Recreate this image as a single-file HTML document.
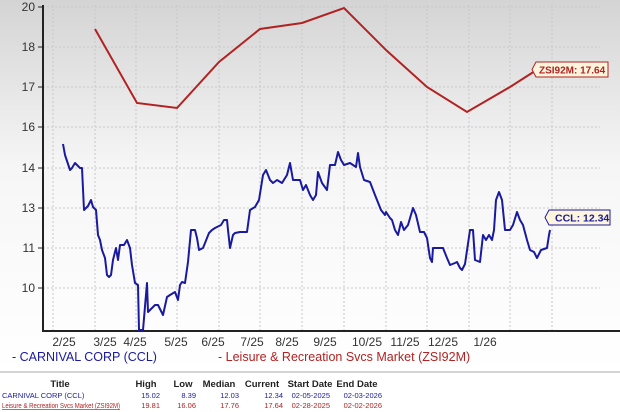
<!DOCTYPE html>
<html><head><style>
body{margin:0;width:620px;height:412px;background:#fff;font-family:"Liberation Sans",sans-serif;overflow:hidden}
</style></head><body>
<svg width="620" height="412" style="position:absolute;left:0;top:0">
<defs><linearGradient id="bg" x1="0" y1="0" x2="0" y2="1"><stop offset="0" stop-color="#d4d4d4"/><stop offset="0.45" stop-color="#f6f6f6"/><stop offset="1" stop-color="#ffffff"/></linearGradient></defs>
<rect x="0" y="0" width="620" height="372" fill="url(#bg)"/>
<g stroke="#c8c8c8" stroke-dasharray="2,2" stroke-width="1">
<line x1="43" y1="7" x2="600" y2="7"/><line x1="43" y1="47" x2="600" y2="47"/><line x1="43" y1="87" x2="600" y2="87"/><line x1="43" y1="127" x2="600" y2="127"/><line x1="43" y1="168" x2="600" y2="168"/><line x1="43" y1="208" x2="600" y2="208"/><line x1="43" y1="248" x2="600" y2="248"/><line x1="43" y1="288" x2="600" y2="288"/>
<line x1="53" y1="5" x2="53" y2="330"/><line x1="95" y1="5" x2="95" y2="330"/><line x1="136" y1="5" x2="136" y2="330"/><line x1="177" y1="5" x2="177" y2="330"/><line x1="219" y1="5" x2="219" y2="330"/><line x1="260" y1="5" x2="260" y2="330"/><line x1="302" y1="5" x2="302" y2="330"/><line x1="344" y1="5" x2="344" y2="330"/><line x1="386" y1="5" x2="386" y2="330"/><line x1="427" y1="5" x2="427" y2="330"/><line x1="469" y1="5" x2="469" y2="330"/><line x1="510" y1="5" x2="510" y2="330"/><line x1="552" y1="5" x2="552" y2="330"/>
</g>
<path d="M43 5 V331 H620" fill="none" stroke="#222" stroke-width="2"/>
<g stroke="#222"><line x1="38" y1="7" x2="43" y2="7"/><line x1="38" y1="47" x2="43" y2="47"/><line x1="38" y1="87" x2="43" y2="87"/><line x1="38" y1="127" x2="43" y2="127"/><line x1="38" y1="168" x2="43" y2="168"/><line x1="38" y1="208" x2="43" y2="208"/><line x1="38" y1="248" x2="43" y2="248"/><line x1="38" y1="288" x2="43" y2="288"/></g>
<g font-size="12" fill="#333" text-anchor="end"><text x="35" y="11">20</text><text x="35" y="51">18</text><text x="35" y="91">17</text><text x="35" y="131">16</text><text x="35" y="172">14</text><text x="35" y="212">13</text><text x="35" y="252">11</text><text x="35" y="292">10</text></g>
<g font-size="12" fill="#333" text-anchor="middle"><text x="64" y="346">2/25</text><text x="105" y="346">3/25</text><text x="135" y="346">4/25</text><text x="176" y="346">5/25</text><text x="213" y="346">6/25</text><text x="252" y="346">7/25</text><text x="287" y="346">8/25</text><text x="325" y="346">9/25</text><text x="367" y="346">10/25</text><text x="405" y="346">11/25</text><text x="443" y="346">12/25</text><text x="485" y="346">1/26</text></g>
<polyline fill="none" stroke="#b22222" stroke-width="2" points="95,29 137,103 177,108 219,62 260,29 302,23 344,8 386,50 427,87 467,112 510,87 535,71"/>
<polyline fill="none" stroke="#1a1aa0" stroke-width="2" stroke-linejoin="round" points="63,144 65,155 70,170 72,168 75,163 80,168 82,168 84,210 88,206 91,200 93,207 96,210 98,235 100,240 102,250 105,258 107,275 109,277 111,275 113,260 116,248 118,260 120,245 124,245 127,240 130,248 132,265 135,283 138,285 139,330 143,330 147,283 148,312 152,308 155,305 158,305 163,315 167,297 170,295 175,292 178,300 180,285 182,282 185,283 188,262 191,230 195,230 197,238 199,250 203,248 209,233 212,230 215,228 221,225 224,220 227,220 228,230 230,248 233,235 235,233 240,232 247,232 250,210 255,207 259,200 263,175 266,170 270,180 273,183 277,180 282,183 287,175 290,163 293,180 300,180 303,190 306,185 310,195 313,200 316,195 318,172 322,183 327,190 330,165 335,165 338,152 341,160 344,165 350,163 356,167 358,153 360,167 364,180 370,182 375,195 381,210 385,215 386,212 390,218 392,220 395,230 398,235 401,222 404,230 408,225 413,208 416,215 420,232 424,232 427,238 430,258 432,262 433,248 437,248 443,248 447,258 450,265 455,263 457,262 460,268 462,270 465,264 470,230 473,230 475,260 480,262 483,235 486,240 489,235 492,240 494,230 496,200 499,192 502,200 505,230 510,230 513,225 517,212 520,220 523,225 527,240 530,250 534,252 537,258 541,250 547,248 549,235 550,230"/>
<path d="M536 62 H608 V77 H536 L532 69.5 Z" fill="#fdf5dc" stroke="#b22222"/>
<text x="539" y="73.5" font-size="10" font-weight="bold" fill="#b22222">ZSI92M: 17.64</text>
<path d="M549 210 H610 V225 H549 L545 217.5 Z" fill="#fdf5dc" stroke="#1a1aa0"/>
<text x="555" y="221.5" font-size="10.5" font-weight="bold" fill="#1a1aa0">CCL: 12.34</text>
<g font-size="12.5"><text x="12" y="361" fill="#1a1aa0">- CARNIVAL CORP (CCL)</text><text x="218" y="361" fill="#b22222">- Leisure &amp; Recreation Svcs Market (ZSI92M)</text></g>
<line x1="0" y1="372" x2="620" y2="372" stroke="#aaa"/>
<g font-size="9.5" fill="#222" font-weight="bold" text-anchor="middle"><text x="60" y="387">Title</text><text x="146" y="387">High</text><text x="183" y="387">Low</text><text x="219" y="387">Median</text><text x="262" y="387">Current</text><text x="310" y="387">Start Date</text><text x="357" y="387">End Date</text></g>
<g font-size="7.5" fill="#1a1aa0"><text x="2" y="398">CARNIVAL CORP (CCL)</text><g text-anchor="end"><text x="160" y="398">15.02</text><text x="196" y="398">8.39</text><text x="239" y="398">12.03</text><text x="283" y="398">12.34</text><text x="330" y="398">02-05-2025</text><text x="382" y="398">02-03-2026</text></g></g>
<g font-size="7" fill="#b22222"><text x="2" y="408" text-decoration="underline" textLength="118" lengthAdjust="spacingAndGlyphs">Leisure &amp; Recreation Svcs Market (ZSI92M)</text><g text-anchor="end" font-size="7.5"><text x="160" y="408">19.81</text><text x="196" y="408">16.06</text><text x="239" y="408">17.76</text><text x="283" y="408">17.64</text><text x="330" y="408">02-28-2025</text><text x="382" y="408">02-02-2026</text></g></g>
</svg>
</body></html>
